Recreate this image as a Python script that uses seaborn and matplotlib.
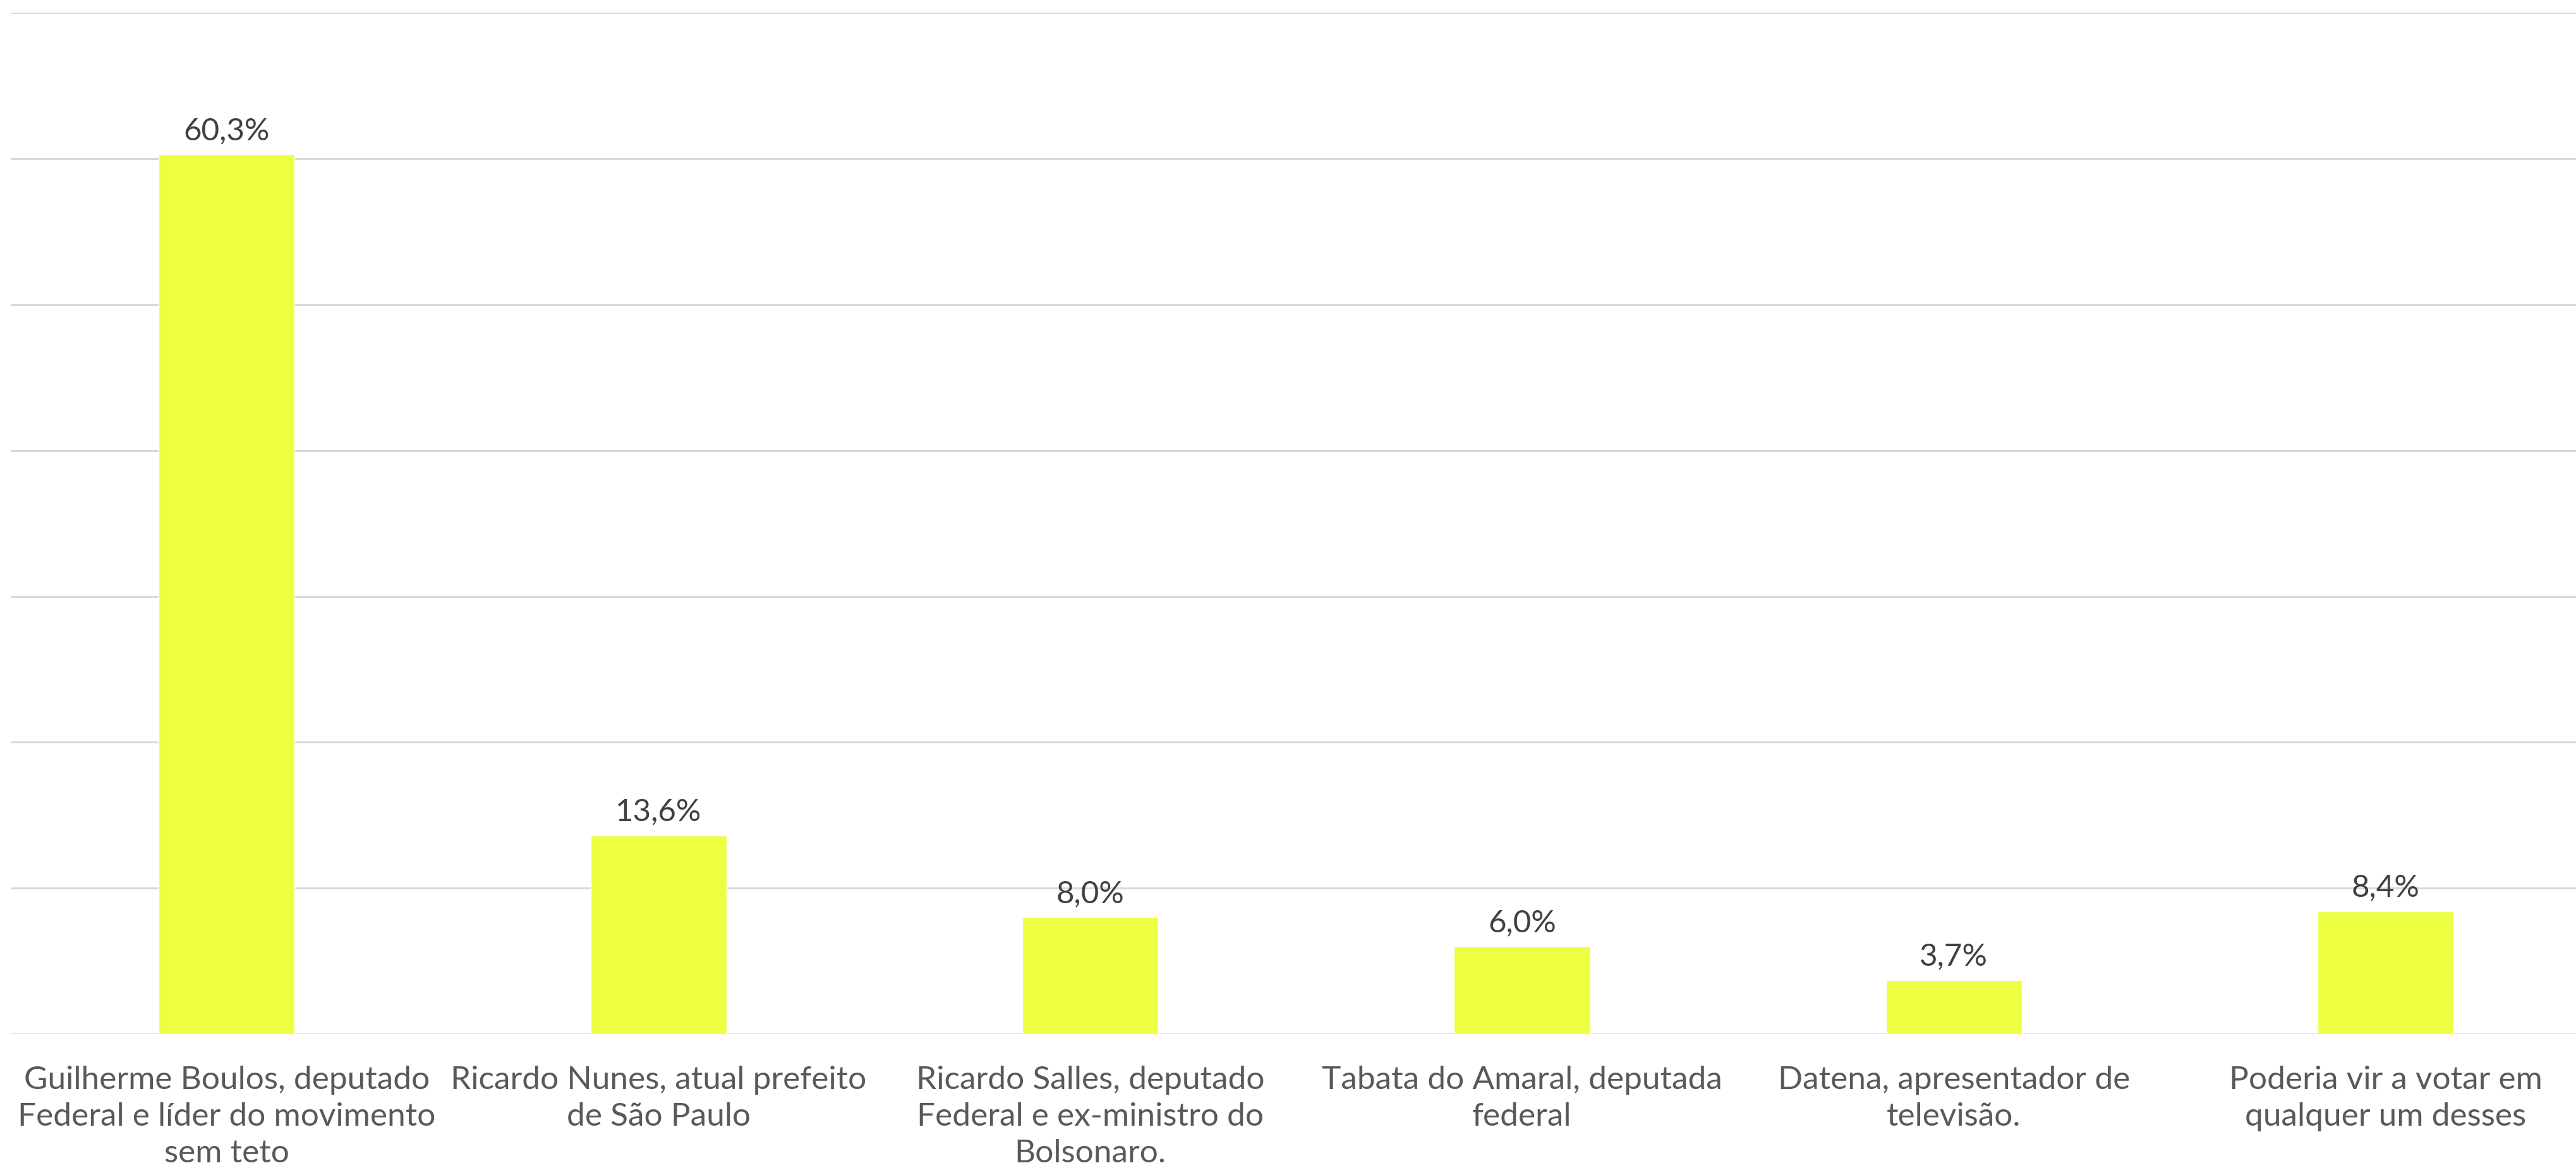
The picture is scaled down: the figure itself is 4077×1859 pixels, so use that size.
import matplotlib.pyplot as plt
import seaborn as sns
import pandas as pd

"""Data"""

categories = [
    "Guilherme Boulos, deputado\nFederal e líder do movimento\nsem teto",
    "Ricardo Nunes, atual prefeito\nde São Paulo",
    "Ricardo Salles, deputado\nFederal e ex-ministro do\nBolsonaro.",
    "Tabata do Amaral, deputada\nfederal",
    "Datena, apresentador de\ntelevisão.",
    "Poderia vir a votar em\nqualquer um desses",
]
values = [60.3, 13.6, 8.0, 6.0, 3.7, 8.4]
value_labels = ["60,3%", "13,6%", "8,0%", "6,0%", "3,7%", "8,4%"]

data = pd.DataFrame({"candidato": categories, "pct": values})

sns.set_style("white")
plt.rcParams['font.family'] = ['Lato', 'DejaVu Sans']

fig = plt.figure(figsize=(40.77, 18.59), dpi=100)
# axes runs a bit past the right edge, like the original
ax = fig.add_axes([0.0042, 0.12, 1.0057, 0.869])

sns.barplot(data=data, x="candidato", y="pct", color="#ECFF40",
            saturation=1, width=0.315, ax=ax, zorder=3)

ax.bar_label(ax.containers[0], labels=value_labels, padding=11,
             fontsize=35.5, color="#404040")

ax.set_ylim(0, 70)
ax.set_xlim(-0.5, 5.5)
ax.set_yticks(range(0, 71, 10))
ax.set_yticklabels([])
ax.yaxis.grid(True, color="#d9d9d9", linewidth=2.2, zorder=0)
ax.tick_params(axis="both", length=0)
ax.tick_params(axis="x", pad=36, labelsize=37, labelcolor="#595959")
for lbl in ax.get_xticklabels():
    lbl.set_linespacing(1.33)
ax.set_xlabel("")
ax.set_ylabel("")
for s in ax.spines.values():
    s.set_visible(False)

plt.savefig("out.png", dpi=100)
